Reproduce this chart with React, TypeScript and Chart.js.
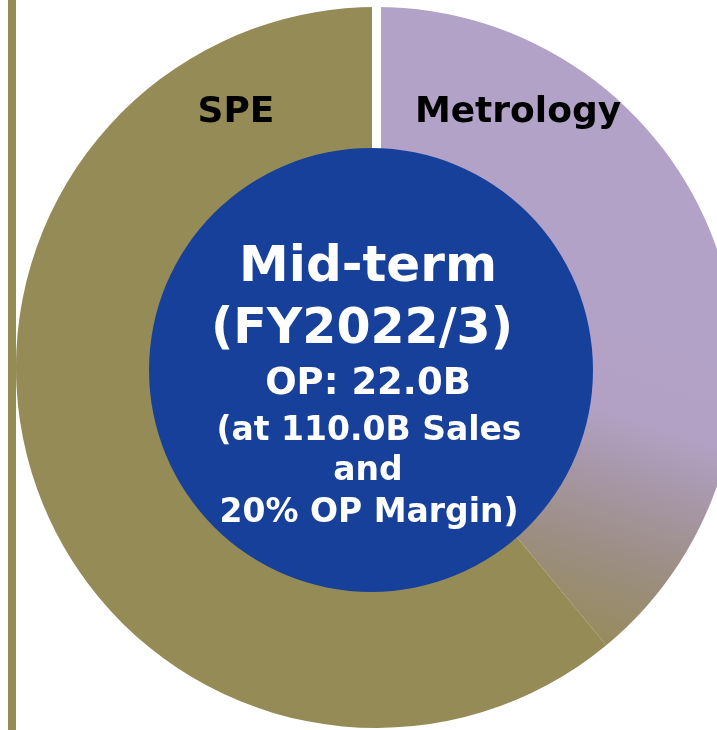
import React, { useEffect, useRef } from "react";
import { Chart, registerables } from "chart.js";

Chart.register(...registerables);

const categories = ["Metrology", "SPE"];
const shares = [39, 61];
const segmentLabels = ["Metrology", "SPE"];
const centerLines = ["Mid-term", "(FY2022/3)", "OP: 22.0B", "(at 110.0B Sales", "and", "20% OP Margin)"];

const OLIVE = "#958B56";
const PURPLE = "#B3A2C7";
const BLUE = "#17409A";
const FONT = "'DejaVu Sans', Verdana, sans-serif";

export default function App() {
  const ref = useRef<HTMLCanvasElement | null>(null);

  useEffect(() => {
    const canvas = ref.current;
    if (!canvas) return;

    const decor = {
      id: "decor",
      afterDatasetsDraw(chart: any) {
        const c = chart.ctx;
        const meta = chart.getDatasetMeta(0);
        const arc0 = meta.data[0] as any;
        const cx = arc0.x;
        const cy = arc0.y;
        const R = arc0.outerRadius;
        const r = arc0.innerRadius;
        // white gap at start of the first segment
        const a = arc0.startAngle;
        c.save();
        c.strokeStyle = "#ffffff";
        c.lineWidth = 9;
        c.lineCap = "butt";
        c.beginPath();
        c.moveTo(cx + (r - 2) * Math.cos(a), cy + (r - 2) * Math.sin(a));
        c.lineTo(cx + (R + 3) * Math.cos(a), cy + (R + 3) * Math.sin(a));
        c.stroke();

        // blue centre disc
        const bx = cx - 5.5;
        const by = cy + 2.5;
        c.fillStyle = BLUE;
        c.beginPath();
        c.arc(bx, by, 222, 0, Math.PI * 2);
        c.fill();

        // centre text
        c.fillStyle = "#ffffff";
        c.textAlign = "center";
        c.textBaseline = "middle";
        const sizes = [50, 49, 37, 33, 33, 33];
        const offs = [-102, -40, 14, 61, 101, 143];
        const xs = [-3, -9, -3, -2, -3, -2];
        centerLines.forEach((t, i) => {
          c.font = `bold ${sizes[i]}px ${FONT}`;
          c.fillText(t, bx + xs[i], by + offs[i]);
        });

        // segment labels
        c.fillStyle = "#000000";
        c.font = `bold 36px ${FONT}`;
        c.fillText(segmentLabels[0], cx + 141.5, cy - 254.5);
        c.fillText(segmentLabels[1], cx - 140.5, cy - 254.5);
        c.restore();
      },
    };

    const chart = new Chart(canvas, {
      type: "doughnut",
      data: {
        labels: categories,
        datasets: [
          {
            data: shares,
            backgroundColor: (ctx: any) => {
              const ch = ctx.chart;
              if (ctx.dataIndex === 1) return OLIVE;
              const area = ch.chartArea;
              if (!area) return PURPLE;
              // canvas offset: page x - 6, page y + 3
              const g = ch.ctx.createLinearGradient(650 - 6, 300 + 3, 540 - 6, 640 + 3);
              g.addColorStop(0, PURPLE);
              g.addColorStop(0.33, "#B2A1C4");
              g.addColorStop(0.5, "#A797A8");
              g.addColorStop(0.72, "#9C8E82");
              g.addColorStop(1, OLIVE);
              return g;
            },
            borderWidth: 0,
            hoverOffset: 0,
          },
        ],
      },
      options: {
        responsive: false,
        animation: false,
        radius: 360.5,
        cutout: 200,
        layout: { padding: 0 },
        plugins: {
          legend: { display: false },
          tooltip: { enabled: false },
        },
        events: [],
      },
      plugins: [decor],
    });

    return () => chart.destroy();
  }, []);

  return (
    <div
      style={{
        position: "fixed",
        left: 0,
        top: 0,
        width: 717,
        height: 730,
        overflow: "hidden",
        background: "#ffffff",
      }}
    >
      <div
        style={{
          position: "absolute",
          left: 8,
          top: 0,
          width: 8,
          height: 730,
          background: OLIVE,
        }}
      />
      <canvas
        ref={ref}
        width={741}
        height={741}
        style={{ position: "absolute", left: 6, top: -3, width: 741, height: 741 }}
      />
    </div>
  );
}
